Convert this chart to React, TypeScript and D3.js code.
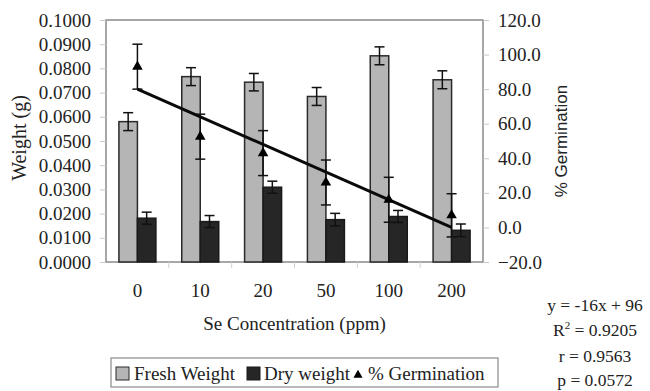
import React, { useEffect, useRef } from "react";
import * as d3 from "d3";

// Chart data
const categories = ["0", "10", "20", "50", "100", "200"];
const freshWeight = [0.058, 0.0766, 0.0743, 0.0684, 0.0852, 0.0753];
const freshErr = [0.0037, 0.0037, 0.0036, 0.0037, 0.0037, 0.0037];
const dryWeight = [0.0181, 0.0167, 0.0309, 0.0175, 0.0188, 0.0131];
const dryErr = [0.0025, 0.0025, 0.0025, 0.0026, 0.0025, 0.0026];
const germination = [93, 52.5, 43, 26, 16, 7];
const germErr = [13, 13, 13, 13, 13, 12.5];
const leftTicks = [0, 0.01, 0.02, 0.03, 0.04, 0.05, 0.06, 0.07, 0.08, 0.09, 0.1];
const rightTicks = [-20, 0, 20, 40, 60, 80, 100, 120];
const trendSlope = -16;
const trendIntercept = 96;
const statsLines = ["y = -16x + 96", "R2", "r = 0.9563", "p = 0.0572"];

const SERIF = "'Liberation Serif', 'Times New Roman', serif";
const SANS = "'Liberation Sans', Arial, sans-serif";

const App = () => {
  const ref = useRef<SVGSVGElement | null>(null);

  useEffect(() => {
    const svg = d3.select(ref.current);
    svg.selectAll("*").remove();

    const left = 106;
    const right = 483;
    const top = 20;
    const bottom = 262;

    const x = d3.scaleBand().domain(categories).range([left, right]);
    const yL = d3.scaleLinear().domain([0, 0.1]).range([bottom, top]);
    const yR = d3.scaleLinear().domain([-20, 120]).range([bottom, top]);
    const barW = 18.5;
    const cx = (i: number) => (x(categories[i]) as number) + x.bandwidth() / 2;

    // plot border
    svg
      .append("rect")
      .attr("x", left)
      .attr("y", top)
      .attr("width", right - left)
      .attr("height", bottom - top)
      .attr("fill", "none")
      .attr("stroke", "#8a8a8a")
      .attr("stroke-width", 1.5);

    // left axis
    const gL = svg.append("g").attr("transform", `translate(${left},0)`);
    gL.call(d3.axisLeft(yL).tickValues(leftTicks).tickSize(6).tickFormat(d3.format(".4f")));
    gL.select(".domain").remove();
    gL.selectAll(".tick line").attr("stroke", "#c8c8c8");
    gL.selectAll(".tick text")
      .attr("x", -15)
      .style("font-family", SERIF)
      .style("font-size", "19px")
      .attr("fill", "#222");

    // right axis
    const gR = svg.append("g").attr("transform", `translate(${right},0)`);
    gR.call(d3.axisRight(yR).tickValues(rightTicks).tickSize(6).tickFormat(d3.format(".1f")));
    gR.select(".domain").remove();
    gR.selectAll(".tick line").attr("stroke", "#c8c8c8");
    gR.selectAll(".tick text")
      .attr("x", 15)
      .style("font-family", SERIF)
      .style("font-size", "19px")
      .attr("fill", "#222");

    // bottom axis
    const gB = svg.append("g").attr("transform", `translate(0,${bottom})`);
    gB.call(d3.axisBottom(x).tickSize(0));
    gB.select(".domain").remove();
    gB.selectAll(".tick text")
      .attr("y", 22)
      .style("font-family", SERIF)
      .style("font-size", "19px")
      .attr("fill", "#222");
    svg
      .append("g")
      .selectAll("line")
      .data(categories.slice(1))
      .enter()
      .append("line")
      .attr("x1", (d) => x(d) as number)
      .attr("x2", (d) => x(d) as number)
      .attr("y1", bottom)
      .attr("y2", bottom + 6)
      .attr("stroke", "#d0d0d0");

    // fresh weight bars
    svg
      .selectAll(".bar-fresh")
      .data(freshWeight)
      .enter()
      .append("rect")
      .attr("class", "bar-fresh")
      .attr("x", (d, i) => cx(i) - barW)
      .attr("width", barW)
      .attr("y", (d) => yL(d))
      .attr("height", (d) => bottom - yL(d))
      .attr("fill", "#b5b5b5")
      .attr("stroke", "#2a2a2a")
      .attr("stroke-width", 1.5);

    // dry weight bars
    svg
      .selectAll(".bar-dry")
      .data(dryWeight)
      .enter()
      .append("rect")
      .attr("class", "bar-dry")
      .attr("x", (d, i) => cx(i))
      .attr("width", barW)
      .attr("y", (d) => yL(d))
      .attr("height", (d) => bottom - yL(d))
      .attr("fill", "#262626")
      .attr("stroke", "#1a1a1a")
      .attr("stroke-width", 1.5);

    // error bars helper
    const errBars = (xs: number[], ys: number[], errs: number[], scale: any, cap: number, w: number) => {
      const g = svg.append("g").attr("stroke", "#111").attr("stroke-width", w);
      xs.forEach((xv, i) => {
        const y1 = scale(ys[i] + errs[i]);
        const y2 = scale(ys[i] - errs[i]);
        g.append("line").attr("x1", xv).attr("x2", xv).attr("y1", y1).attr("y2", y2);
        g.append("line").attr("x1", xv - cap).attr("x2", xv + cap).attr("y1", y1).attr("y2", y1);
        g.append("line").attr("x1", xv - cap).attr("x2", xv + cap).attr("y1", y2).attr("y2", y2);
      });
    };

    errBars(categories.map((c, i) => cx(i) - barW / 2), freshWeight, freshErr, yL, 5, 1.5);
    errBars(categories.map((c, i) => cx(i) + barW / 2), dryWeight, dryErr, yL, 5, 1.5);
    errBars(categories.map((c, i) => cx(i)), germination, germErr, yR, 5, 1.5);

    // trend line
    const line = d3
      .line<number>()
      .x((d) => cx(d - 1))
      .y((d) => yR(trendSlope * d + trendIntercept));
    svg
      .append("path")
      .datum([1, categories.length])
      .attr("d", line)
      .attr("fill", "none")
      .attr("stroke", "#0a0a0a")
      .attr("stroke-width", 3);

    // germination markers
    const tri = d3.symbol().type(d3.symbolTriangle).size(48);
    svg
      .selectAll(".germ")
      .data(germination)
      .enter()
      .append("path")
      .attr("class", "germ")
      .attr("d", tri)
      .attr("transform", (d, i) => `translate(${cx(i)},${yR(d)})`)
      .attr("fill", "#000");

    // axis titles
    svg
      .append("text")
      .attr("transform", `translate(26,138) rotate(-90)`)
      .attr("text-anchor", "middle")
      .style("font-family", SERIF)
      .style("font-size", "20px")
      .attr("fill", "#222")
      .text("Weight (g)");

    svg
      .append("text")
      .attr("transform", `translate(567,${(top + bottom) / 2}) rotate(-90)`)
      .attr("text-anchor", "middle")
      .style("font-family", SANS)
      .style("font-size", "17px")
      .attr("fill", "#222")
      .text("% Germination");

    svg
      .append("text")
      .attr("x", (left + right) / 2)
      .attr("y", 330)
      .attr("text-anchor", "middle")
      .style("font-family", SERIF)
      .style("font-size", "19px")
      .attr("fill", "#222")
      .text("Se Concentration (ppm)");

    // legend
    const legend = svg.append("g");
    legend
      .append("rect")
      .attr("x", 111)
      .attr("y", 358)
      .attr("width", 387)
      .attr("height", 29)
      .attr("fill", "#fff")
      .attr("stroke", "#8a8a8a")
      .attr("stroke-width", 1.2);
    const legText = (tx: number, label: string) =>
      legend
        .append("text")
        .attr("x", tx)
        .attr("y", 380)
        .style("font-family", SERIF)
        .style("font-size", "19px")
        .attr("fill", "#222")
        .text(label);
    legend
      .append("rect")
      .attr("x", 116)
      .attr("y", 367)
      .attr("width", 13)
      .attr("height", 13)
      .attr("fill", "#b5b5b5")
      .attr("stroke", "#2a2a2a");
    legText(134, "Fresh Weight");
    legend
      .append("rect")
      .attr("x", 247)
      .attr("y", 367)
      .attr("width", 13)
      .attr("height", 13)
      .attr("fill", "#262626")
      .attr("stroke", "#1a1a1a");
    legText(264, "Dry weight");
    legend
      .append("path")
      .attr("d", d3.symbol().type(d3.symbolTriangle).size(36))
      .attr("transform", "translate(358,375)")
      .attr("fill", "#000");
    legText(368, "% Germination");

    // regression stats
    const stats = svg
      .append("g")
      .style("font-family", SERIF)
      .style("font-size", "17.5px")
      .attr("fill", "#222")
      .attr("text-anchor", "middle");
    const statY = [311, 336, 362, 386];
    statsLines.forEach((s, i) => {
      const t = stats.append("text").attr("x", 595).attr("y", statY[i]);
      if (s === "R2") {
        t.append("tspan").text("R");
        t.append("tspan").attr("dy", -7).style("font-size", "11px").text("2");
        t.append("tspan").attr("dy", 7).text(" = 0.9205");
      } else {
        t.text(s);
      }
    });
  }, []);

  return (
    <svg
      ref={ref}
      width={650}
      height={391}
      style={{ position: "absolute", left: 0, top: 0, background: "#fff" }}
    />
  );
};

export default App;
